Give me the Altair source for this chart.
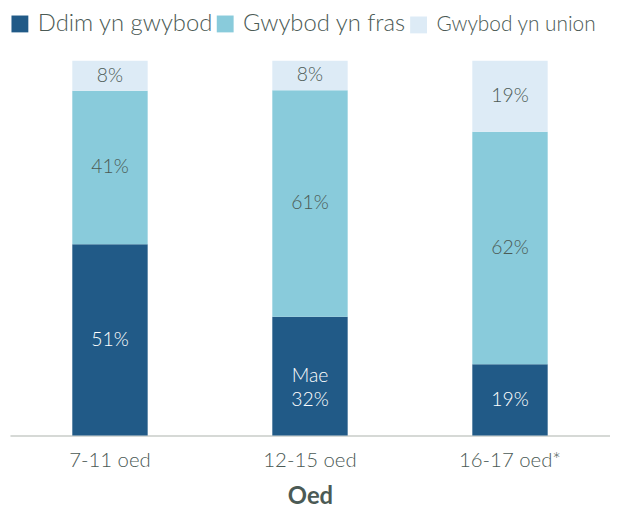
import altair as alt
import pandas as pd

ages = ["7-11 oed", "12-15 oed", "16-17 oed*"]
series = ["Ddim yn gwybod", "Gwybod yn fras", "Gwybod yn union"]
dont_know = [51, 32, 19]
roughly = [41, 61, 62]
exactly = [8, 8, 19]
label_dont_know = ["51%", "Mae\n32%", "19%"]
label_roughly = ["41%", "61%", "62%"]
label_exactly = ["8%", "8%", "19%"]
colors = ["#215a87", "#89cbdb", "#ddebf6"]
text_colors = ["#ffffff", "#4b5a55", "#4b5a55"]

rows = []
for i, a in enumerate(ages):
    for j, (s, vals, labs) in enumerate(zip(series,
                                            [dont_know, roughly, exactly],
                                            [label_dont_know, label_roughly, label_exactly])):
        rows.append({"age": a, "series": s, "value": vals[i], "label": labs[i], "order": j,
                     "tcolor": text_colors[j]})
df = pd.DataFrame(rows)

FONT = "Lato"
GREY = "#4b5a55"

x = alt.X("age:N", sort=ages, scale=alt.Scale(paddingInner=0, paddingOuter=0),
          axis=alt.Axis(title="Oed", labelAngle=0, labelFont=FONT, labelFontSize=20.5,
                        labelColor=GREY, labelFontWeight=300, ticks=False, domainColor="#c8cdc9",
                        domainWidth=1.5, labelPadding=15, titleFont=FONT, titleFontSize=24,
                        titleFontWeight="bold", titleColor=GREY, titlePadding=14, grid=False))

bars = alt.Chart(df).mark_bar(size=76).encode(
    x=x,
    y=alt.Y("value:Q", stack="normalize", axis=None, scale=alt.Scale(domain=[0, 1])),
    color=alt.Color("series:N", scale=alt.Scale(domain=series, range=colors),
                    legend=alt.Legend(title=None, orient="none", legendX=-2, legendY=-49,
                                      direction="horizontal", symbolType="square",
                                      symbolSize=289, symbolStrokeWidth=0,
                                      labelFont=FONT,
                                      labelFontSize={"expr": "datum.label === 'Gwybod yn union' ? 21 : 24"},
                                      labelFontWeight=300,
                                      labelColor=GREY, labelLimit=400, columnPadding=0,
                                      labelOffset=6, symbolOffset=0)),
    order=alt.Order("order:Q"),
)

texts = alt.Chart(df).transform_joinaggregate(
    total="sum(value)", groupby=["age"]
).transform_window(
    cum="sum(value)", sort=[alt.SortField("order")], groupby=["age"],
    frame=[None, 0]
).transform_calculate(
    mid="(datum.cum - datum.value / 2) / datum.total"
).mark_text(font=FONT, fontSize=19.5, fontWeight=300, lineBreak="\n", lineHeight=24,
            baseline="middle").encode(
    x=x,
    y=alt.Y("mid:Q", scale=alt.Scale(domain=[0, 1]), axis=None),
    text="label:N",
    color=alt.Color("tcolor:N", scale=None),
)

chart = alt.layer(bars, texts).properties(
    width=605, height=378,
    background="white",
    autosize=alt.AutoSizeParams(type="none"),
    padding={"left": 2, "top": 51, "right": 0, "bottom": 72},
).configure_view(strokeWidth=0, stroke="transparent")

chart.save("out.html", embed_options={"renderer": "svg", "actions": False})
